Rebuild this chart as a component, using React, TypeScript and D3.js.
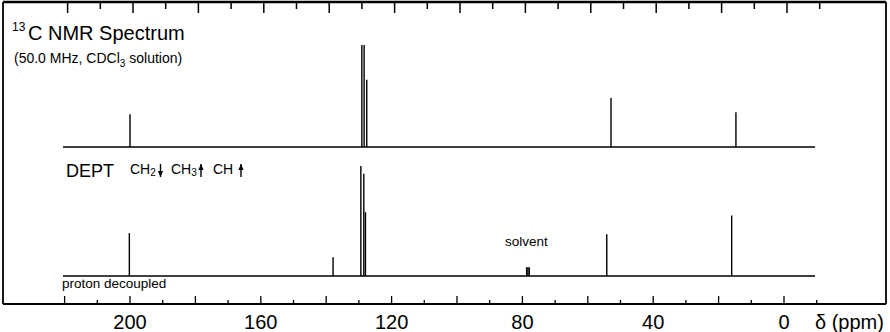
import React from 'react';
import * as d3 from 'd3';

// chemical shifts (ppm) and relative intensities
const deptShifts = [200.0, 129.1, 128.4, 127.6, 52.9, 14.7];
const deptIntensities = [32, 100, 100, 66, 48, 34];
const decoupledShifts = [200.2, 137.9, 129.4, 128.5, 128.0, 78.7, 78.3, 77.9, 54.2, 16.0];
const decoupledIntensities = [39, 17, 100, 93, 58, 8, 8, 8, 38, 55];
const majorTicks = [220, 200, 180, 160, 140, 120, 100, 80, 60, 40, 20, 0];
const minorTicks = [210, 190, 170, 150, 130, 110, 90, 70, 50, 30, 10, -10];
const tickLabels = [200, 160, 120, 80, 40, 0];
const baselineRange = [220.5, -9.5];

const FONT = "'Liberation Sans', Arial, Helvetica, sans-serif";

export default function App() {
  const x = d3.scaleLinear().domain([200, 0]).range([130, 784]);
  const yTop = d3.scaleLinear().domain([0, 100]).range([147, 45]);
  const yBot = d3.scaleLinear().domain([0, 100]).range([276, 166]);

  const spectrum = (shifts: number[], ints: number[], y: d3.ScaleLinear<number, number>) => {
    const base = d3.line<[number, number]>()([
      [x(baselineRange[0]), y(0)],
      [x(baselineRange[1]), y(0)],
    ]);
    return (
      <g>
        <path d={base || ''} stroke="#000" strokeWidth={1.5} fill="none" />
        {shifts.map((s, i) => (
          <line key={i} x1={x(s)} x2={x(s)} y1={y(0)} y2={y(ints[i])} stroke="#000" strokeWidth={1.4} />
        ))}
      </g>
    );
  };

  const left = 3, right = 886, top = 2, bottom = 304;

  const arrow = (cx: number, y1: number, y2: number, down: boolean) => {
    const headY = down ? y2 : y1;
    const dir = down ? -1 : 1;
    return (
      <g>
        <line x1={cx} x2={cx} y1={y1} y2={y2} stroke="#000" strokeWidth={1.4} />
        <path d={`M${cx - 2.6},${headY + dir * 6} L${cx},${headY} L${cx + 2.6},${headY + dir * 6} Z`} fill="#000" />
      </g>
    );
  };

  return (
    <svg width={890} height={332} style={{ position: 'absolute', left: 0, top: 0, background: '#fff' }} fontFamily={FONT}>
      <rect x={0} y={0} width={890} height={332} fill="#fff" />
      {/* frame */}
      <line x1={left} x2={right} y1={top} y2={top} stroke="#000" strokeWidth={2.5} />
      <line x1={left} x2={right} y1={bottom} y2={bottom} stroke="#000" strokeWidth={1.8} />
      <line x1={left} x2={left} y1={top} y2={bottom} stroke="#000" strokeWidth={1.8} />
      <line x1={right} x2={right} y1={top} y2={bottom} stroke="#000" strokeWidth={1.8} />

      {/* top ticks */}
      {majorTicks.map((t) => (
        <line key={'tm' + t} x1={x(t) + 3} x2={x(t) + 3} y1={top} y2={top + 11} stroke="#000" strokeWidth={1.5} />
      ))}
      {minorTicks.map((t) => (
        <line key={'tn' + t} x1={x(t) + 3} x2={x(t) + 3} y1={top} y2={top + 7} stroke="#000" strokeWidth={1.5} />
      ))}
      {/* bottom ticks */}
      {majorTicks.map((t) => (
        <line key={'bm' + t} x1={x(t)} x2={x(t)} y1={bottom} y2={bottom - 8} stroke="#000" strokeWidth={1.3} />
      ))}
      {minorTicks.map((t) => (
        <line key={'bn' + t} x1={x(t)} x2={x(t)} y1={bottom} y2={bottom - 4} stroke="#000" strokeWidth={1.3} />
      ))}
      {tickLabels.map((t) => (
        <text key={'l' + t} x={x(t)} y={329} textAnchor="middle" fontSize={20}>{t}</text>
      ))}
      <text x={815} y={329} fontSize={20}>δ (ppm)</text>

      {/* spectra */}
      {spectrum(deptShifts, deptIntensities, yTop)}
      {spectrum(decoupledShifts, decoupledIntensities, yBot)}

      {/* titles */}
      <text x={12} y={31} fontSize={12}>13</text>
      <text x={28} y={40} fontSize={20}>C NMR Spectrum</text>
      <text x={14} y={63} fontSize={14}>
        (50.0 MHz, CDCl<tspan fontSize={10} dy={4}>3</tspan><tspan dy={-4}> solution)</tspan>
      </text>

      <text x={66} y={177} fontSize={18}>DEPT</text>
      <text x={130} y={174} fontSize={14}>CH<tspan fontSize={10} dy={2}>2</tspan></text>
      {arrow(160.5, 164, 177, true)}
      <text x={171} y={174} fontSize={14}>CH<tspan fontSize={10} dy={2}>3</tspan></text>
      {arrow(201, 164, 177, false)}
      <text x={213} y={174} fontSize={14}>CH</text>
      {arrow(241, 164, 177, false)}

      <text x={505} y={246} fontSize={13.5}>solvent</text>
      <text x={62} y={288} fontSize={13.5}>proton decoupled</text>
    </svg>
  );
}
